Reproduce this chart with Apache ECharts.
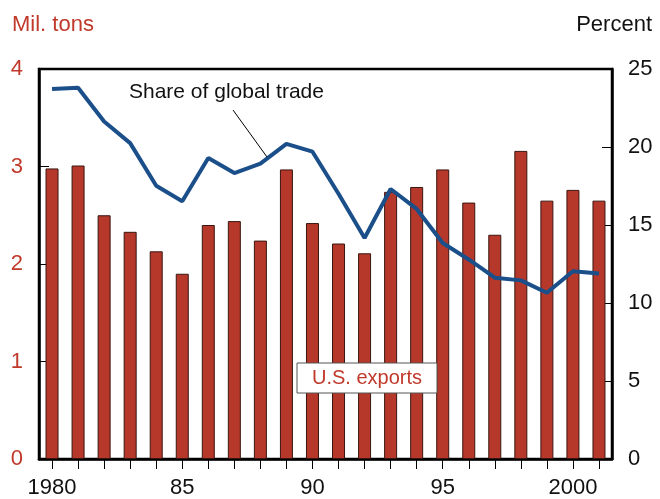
<!DOCTYPE html>
<html>
<head>
<meta charset="utf-8">
<script src="https://cdn.jsdelivr.net/npm/echarts@6/dist/echarts.min.js"></script>
<style>html,body{margin:0;padding:0;background:#fff}#c{width:660px;height:499px}</style>
</head>
<body>
<div id="c"></div>
<script>
var years = ['1980','1981','1982','1983','1984','1985','1986','1987','1988','1989','1990','1991','1992','1993','1994','1995','1996','1997','1998','1999','2000','2001'];
var yearLabels = ['1980','','','','','85','','','','','90','','','','','95','','','','','2000',''];
var exports = [2.98,3.01,2.50,2.33,2.13,1.90,2.40,2.44,2.24,2.97,2.42,2.21,2.11,2.74,2.79,2.97,2.63,2.30,3.16,2.65,2.76,2.65];
var share = [23.72,23.8,21.63,20.25,17.52,16.52,19.29,18.33,18.93,20.2,19.7,17.0,14.17,17.31,16.03,13.85,12.79,11.62,11.45,10.66,12.04,11.89];

var RED = '#B5382A';
var RED_TXT = '#C0392B';
var BLUE = '#1B4F8A';
var FONT = '"Liberation Sans", Arial, Helvetica, sans-serif';

var chart = echarts.init(document.getElementById('c'), null, {renderer:'canvas'});
chart.setOption({
  animation: false,
  backgroundColor: '#fff',
  textStyle: {fontFamily: FONT},
  title: [
    {text: 'Mil. tons', left: 7, top: 9, textStyle: {color: RED_TXT, fontSize: 22, fontWeight: 'normal', fontFamily: FONT}},
    {text: 'Percent', right: 3, top: 9, textStyle: {color: '#111', fontSize: 22, fontWeight: 'normal', fontFamily: FONT}}
  ],
  grid: {left: 39, right: 48, top: 69, bottom: 39, show: true, borderColor: '#000', borderWidth: 2.5, backgroundColor: 'transparent'},
  xAxis: {
    type: 'category',
    data: years,
    boundaryGap: true,
    axisLine: {show: true, lineStyle: {color: '#000', width: 2.5}},
    axisTick: {show: true, alignWithLabel: true, inside: false, length: 10, interval: 0, lineStyle: {color: '#000', width: 1}},
    axisLabel: {interval: 0, margin: 18, fontSize: 22, color: '#111', fontFamily: FONT,
      formatter: function (v, i) { return yearLabels[i]; }},
    splitLine: {show: false}
  },
  yAxis: [
    {type: 'value', min: 0, max: 4, interval: 1, position: 'left',
     axisLine: {show: true, lineStyle: {color: '#000', width: 2.5}},
     axisTick: {show: true, inside: true, length: 10, lineStyle: {color: '#000', width: 1}},
     axisLabel: {margin: 16, fontSize: 22, color: RED_TXT, fontFamily: FONT},
     splitLine: {show: false}},
    {type: 'value', min: 0, max: 25, interval: 5, position: 'right',
     axisLine: {show: true, lineStyle: {color: '#000', width: 2.5}},
     axisTick: {show: true, inside: true, length: 10, lineStyle: {color: '#000', width: 1}},
     axisLabel: {margin: 16, fontSize: 22, color: '#111', fontFamily: FONT},
     splitLine: {show: false}}
  ],
  series: [
    {type: 'bar', name: 'U.S. exports', data: exports, yAxisIndex: 0, barWidth: 13,
     itemStyle: {color: RED, borderColor: '#3a1510', borderWidth: 1}},
    {type: 'line', name: 'Share of global trade', data: share, yAxisIndex: 1,
     symbol: 'none', lineStyle: {color: BLUE, width: 4}, z: 5}
  ],
  graphic: [
    {type: 'text', left: 129, top: 82, style: {text: 'Share of global trade', fill: '#111', fontSize: 21, fontFamily: FONT}, z: 10},
    {type: 'line', shape: {x1: 233, y1: 110, x2: 267, y2: 157}, style: {stroke: '#000', lineWidth: 1}, z: 10},
    {type: 'rect', shape: {x: 297, y: 363, width: 140, height: 30}, style: {fill: '#fff', stroke: '#555', lineWidth: 1}, z: 10},
    {type: 'text', x: 367, y: 378, style: {text: 'U.S. exports', fill: RED_TXT, fontSize: 20, fontFamily: FONT, align: 'center', verticalAlign: 'middle'}, z: 11}
  ]
});
</script>
</body>
</html>
